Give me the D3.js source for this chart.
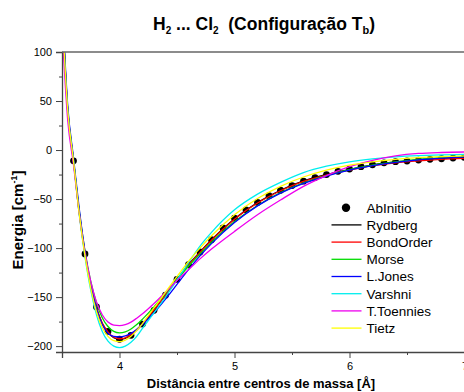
<!DOCTYPE html>
<html>
<head>
<meta charset="utf-8">
<script src="https://cdn.jsdelivr.net/npm/d3@7"></script>
<style>
  html, body { margin: 0; padding: 0; background: #fff; }
  svg { display: block; }
  text { font-family: "Liberation Sans", Arial, sans-serif; }
</style>
</head>
<body>
<svg id="chart" width="464" height="392"></svg>
<script>
// ---- data ----
const abX = [3.6,3.7,3.8,3.9,4.0,4.1,4.2,4.3,4.4,4.5,4.6,4.7,4.8,4.9,5.0,5.1,5.2,5.3,5.4,5.5,5.6,5.7,5.8,5.9,6.0,6.1,6.2,6.3,6.4,6.5,6.6,6.7,6.8,6.9,7.0];
const abInitio = [-11,-106,-160,-185,-193,-189,-177.5,-163.5,-148,-132,-117,-104,-91.5,-79.5,-69.5,-61,-53.5,-46.6,-41,-36.2,-31.8,-28.1,-25,-21.7,-19.4,-17,-15,-13,-11.9,-11.2,-10.2,-9.5,-8.9,-8.2,-7.5];

const fitX = [3.5,3.55,3.6,3.65,3.7,3.75,3.8,3.85,3.9,3.95,4.0,4.05,4.1,4.15,4.2,4.3,4.4,4.5,4.6,4.7,4.8,5.0,5.2,5.4,5.6,5.8,6.0,6.2,6.4,6.6,6.8,7.0];
const rydberg   = [150,40,-11,-64,-106,-138,-161,-177,-186,-191.5,-193,-192,-188.5,-183.5,-177.5,-163.5,-148,-132,-117,-104,-91.5,-70,-53.5,-41,-31.5,-25,-19.8,-15.2,-12.2,-10,-8.6,-7.5];
const bondOrder = [148,40,-11,-64,-106,-138,-161,-176.5,-185.5,-191,-192.5,-191.5,-188,-183,-177,-163,-148,-132.5,-117.5,-104.5,-92,-70.5,-54,-41.5,-32,-25.5,-20.5,-16,-13,-11,-9.5,-8.5];
const morse     = [150,42,-10,-62,-103,-134,-156,-171,-180,-185,-186.5,-185.5,-182.5,-178,-172.5,-160,-146,-132,-118.5,-106,-94,-73,-56.5,-43.5,-33.5,-26,-20,-15.5,-12,-9.5,-7.8,-6.5];
const lJones    = [155,45,-8,-60,-104,-138,-162,-178,-187,-190,-190.5,-189.5,-187,-183,-178,-166,-152,-137,-122,-108,-95.5,-74,-57,-44,-34,-26.5,-20.5,-16,-12.5,-10,-8.3,-7];
const varshni   = [140,38,-12,-66,-109,-143,-168,-185,-195,-200,-201.5,-200,-196,-190,-182,-166,-150,-132.5,-115,-98,-84,-61,-45,-33,-23,-16.5,-12,-9,-7,-5.8,-5,-4.5];
const tToennies = [125,30,-15,-65,-105,-134,-155,-168,-175.5,-178.5,-179,-178,-175.5,-171.5,-167,-156.5,-145,-133,-122,-111,-101,-83,-66,-51,-37,-26,-17,-10.5,-6,-3.5,-2.5,-2];
const tietz     = [145,40,-11,-65,-108,-141,-165,-181,-190,-194.5,-195.5,-194,-190,-184,-177,-161,-145,-129,-113.5,-100,-87.5,-66,-49.5,-37,-27.5,-20.5,-15.5,-12,-9.5,-7.8,-6.7,-6];

const seriesNames  = ["Rydberg","BondOrder","Morse","L.Jones","Varshni","T.Toennies","Tietz"];
const seriesValues = [rydberg, bondOrder, morse, lJones, varshni, tToennies, tietz];
const seriesColors = ["#000000","#ff0000","#00dd00","#0000ff","#00eeee","#ee00ee","#ffff00"];

const xTicks = [4,5,6,7];
const xMinor = [4.5,5.5,6.5];
const yTicks = [-200,-150,-100,-50,0,50,100];
const yMinor = [-175,-125,-75,-25,25,75];

// ---- layout ----
const svg = d3.select("#chart");
const L = 62, R = 464.5, T = 52, B = 352;
const x = d3.scaleLinear().domain([3.5, 7]).range([L, R]);
const y = d3.scaleLinear().domain([-206, 100]).range([B, T]);

svg.append("defs").append("clipPath").attr("id","clip")
  .append("rect").attr("x", L).attr("y", T).attr("width", R - L).attr("height", B - T);

const plot = svg.append("g").attr("clip-path","url(#clip)");

// points
plot.selectAll("circle.ab").data(abX).join("circle")
  .attr("class","ab")
  .attr("cx", d => x(d))
  .attr("cy", (d,i) => y(abInitio[i]))
  .attr("r", 3.4)
  .attr("fill", "#000");

// lines
const line = d3.line().curve(d3.curveMonotoneX);
seriesValues.forEach((vals, k) => {
  plot.append("path")
    .attr("d", line(fitX.map((xv, i) => [x(xv), y(vals[i])])))
    .attr("fill","none")
    .attr("stroke", seriesColors[k])
    .attr("stroke-width", 1.3);
});

// axes
const axisColor = "#444";
svg.append("g").attr("transform", `translate(0,${B})`)
  .call(d3.axisBottom(x).tickValues(xTicks).tickSize(6).tickPadding(4).tickFormat(d3.format("d")));
svg.append("g").attr("transform", `translate(0,${B})`)
  .call(d3.axisBottom(x).tickValues(xMinor).tickSize(3).tickFormat(""))
  .select(".domain").remove();
svg.append("g").attr("transform", `translate(${L},0)`)
  .call(d3.axisLeft(y).tickValues(yTicks).tickSize(6).tickPadding(4).tickFormat(d3.format("d")));
svg.append("g").attr("transform", `translate(${L},0)`)
  .call(d3.axisLeft(y).tickValues(yMinor).tickSize(3).tickFormat(""))
  .select(".domain").remove();

svg.selectAll(".domain").attr("stroke", axisColor).attr("stroke-width", 1.3);
svg.selectAll(".tick line").attr("stroke", axisColor).attr("stroke-width", 1);
svg.selectAll(".tick text").attr("font-size", 11).attr("fill", "#000")
  .attr("font-family", "Liberation Sans, Arial, sans-serif");

// top frame
svg.append("line").attr("x1", L).attr("x2", R).attr("y1", T).attr("y2", T)
  .attr("stroke", "#666").attr("stroke-width", 1.6);

// titles
const title = svg.append("text").attr("x", 264).attr("y", 30)
  .attr("text-anchor","middle").attr("font-size", 17.5).attr("font-weight","bold")
  .attr("xml:space","preserve");
title.append("tspan").text("H");
title.append("tspan").text("2").attr("font-size", 10).attr("dy", 4);
title.append("tspan").text(" ... Cl").attr("dy", -4);
title.append("tspan").text("2").attr("font-size", 10).attr("dy", 4);
title.append("tspan").text("  (Configuração T").attr("dy", -4);
title.append("tspan").text("b").attr("font-size", 11).attr("dy", 4);
title.append("tspan").text(")").attr("dy", -4);

svg.append("text").attr("x", 261).attr("y", 388)
  .attr("text-anchor","middle").attr("font-size", 13).attr("font-weight","bold")
  .text("Distância entre centros de massa [Å]");

const yl = svg.append("text").attr("transform", "translate(23,220) rotate(-90)")
  .attr("text-anchor","middle").attr("font-size", 15).attr("font-weight","bold");
yl.append("tspan").text("Energia [cm");
yl.append("tspan").text("-1").attr("font-size", 9).attr("dy", -6);
yl.append("tspan").text("]").attr("dy", 6);

// legend
const lg = svg.append("g");
const rowY = 207.7, rowH = 17.2;
lg.append("circle").attr("cx", 346).attr("cy", rowY).attr("r", 4.2).attr("fill","#000");
lg.append("text").attr("x", 366.5).attr("y", rowY + 4.8).attr("font-size", 13.5).text("AbInitio");
seriesNames.forEach((n, k) => {
  const yy = rowY + rowH * (k + 1);
  lg.append("line").attr("x1", 331.5).attr("x2", 361.5).attr("y1", yy).attr("y2", yy)
    .attr("stroke", seriesColors[k]).attr("stroke-width", 1.3);
  lg.append("text").attr("x", 366.5).attr("y", yy + 4.8).attr("font-size", 13.5).text(n);
});
</script>
</body>
</html>
